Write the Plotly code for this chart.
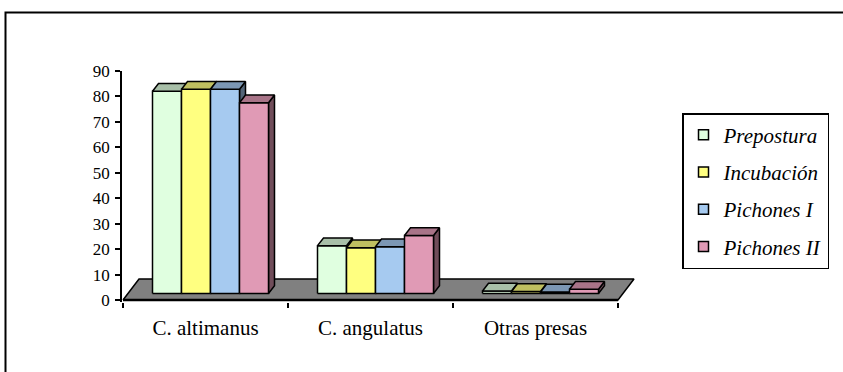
import plotly.graph_objects as go

# Diet composition (%) by breeding stage
categories = ["C. altimanus", "C. angulatus", "Otras presas"]
series_names = ["Prepostura", "Incubación", "Pichones I", "Pichones II"]
prepostura = [79.5, 18.8, 1.0]
incubacion = [80.3, 18.0, 0.8]
pichones_1 = [80.3, 18.4, 0.6]
pichones_2 = [75.0, 22.8, 1.7]
y_ticks = [0, 10, 20, 30, 40, 50, 60, 70, 80, 90]

series_values = [prepostura, incubacion, pichones_1, pichones_2]

# face colours: front, top (darker), side (darkest)
front_colors = ["#E0FFE0", "#FFFF80", "#A6CAF0", "#E09AB5"]
top_colors = ["#A8BFA8", "#BFBF60", "#7C97B4", "#A87488"]
side_colors = ["#708070", "#808040", "#536578", "#704D5A"]

SERIF = "Liberation Serif, Times New Roman, serif"

# pseudo-3D geometry (x in pixel-like units, y in value units)
CAT_W = 165.0
BAR_W = 29.0
PX_PER_UNIT = 229.0 / 90.0
FLOOR_DX, FLOOR_DY = 16.0, 21.0 / PX_PER_UNIT
BAR_DX, BAR_DY = 6.0, 7.7 / PX_PER_UNIT
FRONT_DX, BASE = 5.0, 6.5 / PX_PER_UNIT

fig = go.Figure()

# floor plane
n_cat = len(categories)
x_end = CAT_W * n_cat
fig.add_trace(go.Scatter(
    x=[0, x_end, x_end + FLOOR_DX, FLOOR_DX, 0],
    y=[0, 0, FLOOR_DY, FLOOR_DY, 0],
    mode="lines", fill="toself", fillcolor="#808080",
    line=dict(color="black", width=1.5), showlegend=False, hoverinfo="skip"))
fig.add_trace(go.Scatter(
    x=[0, x_end], y=[0, 0], mode="lines",
    line=dict(color="black", width=2.5), showlegend=False, hoverinfo="skip"))

# bars: side, front and top faces, drawn left to right
n_ser = len(series_values)
for i in range(n_cat):
    center = CAT_W * i + CAT_W / 2 + FRONT_DX
    for j, vals in enumerate(series_values):
        v = vals[i]
        x0 = center - n_ser * BAR_W / 2 + j * BAR_W
        x1 = x0 + BAR_W
        y0, y1 = BASE, BASE + v
        faces = [
            ([x1, x1 + BAR_DX, x1 + BAR_DX, x1, x1],
             [y0, y0 + BAR_DY, y1 + BAR_DY, y1, y0], side_colors[j]),
            ([x0, x1, x1, x0, x0], [y0, y0, y1, y1, y0], front_colors[j]),
            ([x0, x0 + BAR_DX, x1 + BAR_DX, x1, x0],
             [y1, y1 + BAR_DY, y1 + BAR_DY, y1, y1], top_colors[j]),
        ]
        for fx, fy, col in faces:
            fig.add_trace(go.Scatter(
                x=fx, y=fy, mode="lines", fill="toself", fillcolor=col,
                line=dict(color="black", width=1.5),
                showlegend=False, hoverinfo="skip"))

# legend entries
for j, name in enumerate(series_names):
    fig.add_trace(go.Scatter(
        x=[None], y=[None], mode="markers", name=name, legendgroup=name,
        marker=dict(symbol="square", size=10, color=front_colors[j],
                    line=dict(color="black", width=1.5))))

L, R, T, B = 122, 199, 71, 70
plot_w = 843 - L - R
plot_h = 372 - T - B
y_min = -(plot_h - 90 * PX_PER_UNIT) / PX_PER_UNIT


def px_to_paper_x(px):
    return (px - L) / plot_w


def px_to_paper_y(py):
    return (372 - B - py) / plot_h


fig.update_layout(
    width=843, height=372,
    margin=dict(l=L, r=R, t=T, b=B),
    paper_bgcolor="white", plot_bgcolor="white",
    font=dict(family=SERIF, color="black"),
    showlegend=True,
    legend=dict(
        x=px_to_paper_x(682), y=px_to_paper_y(113),
        xanchor="left", yanchor="top",
        bordercolor="black", borderwidth=1.5, bgcolor="white",
        font=dict(family=SERIF, size=21, style="italic"),
        tracegroupgap=7, itemwidth=30,
    ),
    xaxis=dict(
        range=[-1, plot_w - 1], showgrid=False, zeroline=False, showline=False,
        tickvals=[CAT_W * i + CAT_W / 2 for i in range(n_cat)],
        ticktext=categories, ticks="", ticklabelstandoff=11,
        tickfont=dict(family=SERIF, size=21),
        minor=dict(ticks="outside", tick0=0, dtick=CAT_W, ticklen=5,
                   tickwidth=1.5, tickcolor="black", showgrid=False),
        fixedrange=True,
    ),
    yaxis=dict(
        range=[y_min, 90], showgrid=False, zeroline=False,
        showline=True, linecolor="black", linewidth=1.5,
        tickvals=y_ticks, ticks="outside", ticklen=5, tickwidth=1.5,
        tickcolor="black", tickfont=dict(family=SERIF, size=17),
        ticklabelstandoff=2, fixedrange=True,
    ),
    shapes=[dict(
        type="rect", xref="paper", yref="paper",
        x0=px_to_paper_x(5.5), x1=px_to_paper_x(860),
        y0=px_to_paper_y(390), y1=px_to_paper_y(12.5),
        line=dict(color="black", width=2), fillcolor="rgba(0,0,0,0)",
        layer="above",
    )],
)

fig.write_html("out.html")
